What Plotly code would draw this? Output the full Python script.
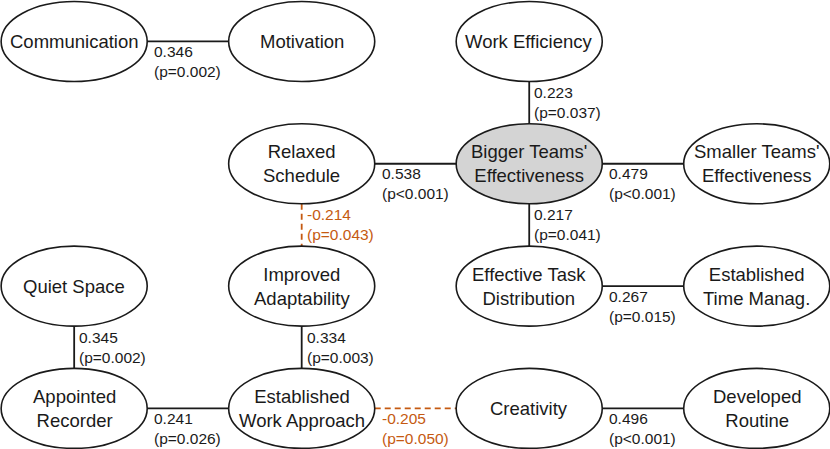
import plotly.graph_objects as go

# node labels and grid positions (column, row)
node_names = [
    "Communication", "Motivation", "Work Efficiency",
    "Relaxed<br>Schedule", "Bigger Teams'<br>Effectiveness", "Smaller Teams'<br>Effectiveness",
    "Quiet Space", "Improved<br>Adaptability", "Effective Task<br>Distribution", "Established<br>Time Manag.",
    "Appointed<br>Recorder", "Established<br>Work Approach", "Creativity", "Developed<br>Routine",
]
node_col = [0, 1, 2, 1, 2, 3, 0, 1, 2, 3, 0, 1, 2, 3]
node_row = [0, 0, 0, 1, 1, 1, 2, 2, 2, 2, 3, 3, 3, 3]
highlight = [4]

# edges: source index, target index, coefficient, p-value text
edge_src = [0, 2, 3, 4, 4, 3, 8, 6, 7, 10, 11, 12]
edge_dst = [1, 4, 4, 5, 8, 7, 9, 10, 11, 11, 12, 13]
edge_coef = [0.346, 0.223, 0.538, 0.479, 0.217, -0.214, 0.267, 0.345, 0.334, 0.241, -0.205, 0.496]
edge_p = ["p=0.002", "p=0.037", "p<0.001", "p<0.001", "p=0.041", "p=0.043",
          "p=0.015", "p=0.002", "p=0.003", "p=0.026", "p=0.050", "p<0.001"]

BLACK = "#1a1a1a"
ORANGE = "#C55A11"
RX, RY = 0.321, 0.327  # ellipse half axes in grid units

fig = go.Figure()

for s, d, c, p in zip(edge_src, edge_dst, edge_coef, edge_p):
    neg = c < 0
    color = ORANGE if neg else BLACK
    x0, y0, x1, y1 = node_col[s], node_row[s], node_col[d], node_row[d]
    if y0 == y1:
        xs = [x0 + RX, x1 - RX]
        ys = [y0, y1]
        ax, ay, xshift, yshift = xs[0], y0, 5, -20
    else:
        xs = [x0, x1]
        ys = [y0 + RY, y1 - RY]
        ax, ay, xshift, yshift = x0, (ys[0] + ys[1]) / 2, 3, 0
    fig.add_trace(go.Scatter(
        x=xs, y=ys, mode="lines", hoverinfo="skip",
        line=dict(color=color, width=1.8, dash="6px,4px" if neg else "solid"),
    ))
    fig.add_annotation(
        x=ax, y=ay, text=f"{c:.3f}<br>({p})", showarrow=False,
        xanchor="left", yanchor="middle", align="left", xshift=xshift, yshift=yshift,
        font=dict(size=15.5, color=color),
    )

for i, (cx, cy) in enumerate(zip(node_col, node_row)):
    fig.add_shape(
        type="circle", xref="x", yref="y",
        x0=cx - RX, x1=cx + RX, y0=cy - RY, y1=cy + RY,
        line=dict(color=BLACK, width=1.6),
        fillcolor="#d4d4d4" if i in highlight else "white",
        layer="above",
    )

# node labels as annotations so they sit above the ellipse shapes
for cx, cy, name in zip(node_col, node_row, node_names):
    fig.add_annotation(x=cx, y=cy, text=name, showarrow=False,
                       font=dict(size=18.5, color=BLACK), align="center")

fig.update_layout(
    width=830, height=449,
    margin=dict(l=0, r=0, t=0, b=0),
    paper_bgcolor="white", plot_bgcolor="white",
    showlegend=False,
    font=dict(family="Liberation Sans"),
    xaxis=dict(range=[-0.326, 3.322], visible=False, fixedrange=True),
    yaxis=dict(range=[3.332, -0.339], visible=False, fixedrange=True),
)

fig.write_html("out.html", config={"displayModeBar": False},
               post_script="document.body.style.margin='0';")
